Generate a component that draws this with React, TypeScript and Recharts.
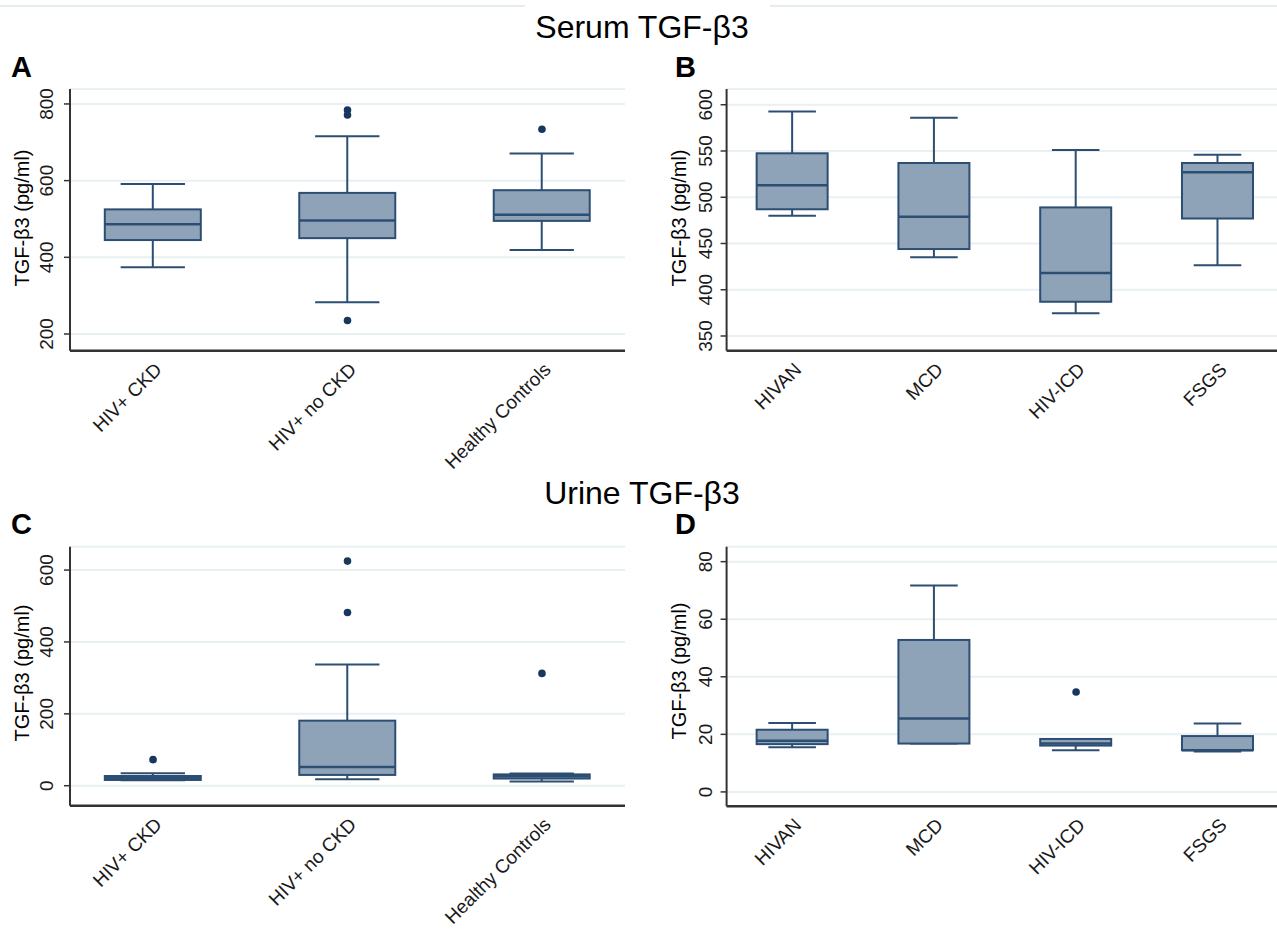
import React from 'react';
import { ComposedChart, Bar, Scatter, XAxis, YAxis, CartesianGrid } from 'recharts';

// ---------- categories ----------
const groupsAC = ['HIV+ CKD', 'HIV+ no CKD', 'Healthy Controls'];
const groupsBD = ['HIVAN', 'MCD', 'HIV-ICD', 'FSGS'];

// ---------- Panel A: Serum TGF-β3 by HIV/CKD status ----------
const aMin = [374, 283, 419];
const aQ1 = [445, 450, 495];
const aMed = [486, 496, 511];
const aQ3 = [525, 568, 575];
const aMax = [591, 716, 671];
const aOutX = [1, 1, 1, 2];
const aOutY = [784, 771, 235, 734];
const aTicks = [200, 400, 600, 800];

// ---------- Panel B: Serum TGF-β3 by histology ----------
const bMin = [480, 435, 374.5, 426.5];
const bQ1 = [487, 444, 387, 477];
const bMed = [513, 479, 418, 527];
const bQ3 = [547.5, 537, 489, 537];
const bMax = [592.8, 586, 551, 546];
const bOutX: number[] = [];
const bOutY: number[] = [];
const bTicks = [350, 400, 450, 500, 550, 600];

// ---------- Panel C: Urine TGF-β3 by HIV/CKD status ----------
const cMin = [15, 18, 12];
const cQ1 = [16, 30, 20];
const cMed = [21, 52, 26];
const cQ3 = [27, 181, 31.5];
const cMax = [35, 337.6, 34.3];
const cOutX = [0, 1, 1, 2];
const cOutY = [72.5, 625, 482, 312.5];
const cTicks = [0, 200, 400, 600];

// ---------- Panel D: Urine TGF-β3 by histology ----------
const dMin = [15.5, 16.8, 14.5, 14.0];
const dQ1 = [16.6, 16.8, 16.1, 14.5];
const dMed = [17.8, 25.5, 16.8, 14.5];
const dQ3 = [21.6, 52.8, 18.4, 19.4];
const dMax = [23.9, 71.7, 18.4, 23.8];
const dOutX = [2];
const dOutY = [34.7];
const dTicks = [0, 20, 40, 60, 80];

const FONT = '"Liberation Sans", Arial, sans-serif';
const FILL = '#8FA3B8';
const STROKE = '#2C4E73';
const DOT = '#17375E';
const AXIS = '#333333';
const GRID = '#E8F0F3';
const TEXT = '#1a1a1a';

function buildRows(groups: string[], mn: number[], q1: number[], med: number[], q3: number[], mx: number[]) {
  return groups.map((g, i) => ({
    x: i,
    name: g,
    min: mn[i],
    q1: q1[i],
    med: med[i],
    q3: q3[i],
    max: mx[i],
    range: [mn[i], mx[i]],
  }));
}

function buildOutliers(xs: number[], ys: number[]) {
  return xs.map((x, i) => ({ x, y: ys[i] }));
}

const BoxShape = (props: any) => {
  const { x, y, width, height, payload } = props;
  if (x == null || y == null || !payload) return null;
  const top = Math.min(y, y + height);
  const h = Math.abs(height);
  const { min, q1, med, q3, max } = payload;
  const span = max - min;
  const py = (v: number) => (span === 0 ? top : top + (h * (max - v)) / span);
  const cx = x + width / 2;
  const capHalf = width * 0.335;
  return (
    <g>
      <line x1={cx} x2={cx} y1={py(max)} y2={py(q3)} stroke={STROKE} strokeWidth={2} />
      <line x1={cx} x2={cx} y1={py(q1)} y2={py(min)} stroke={STROKE} strokeWidth={2} />
      <line x1={cx - capHalf} x2={cx + capHalf} y1={py(max)} y2={py(max)} stroke={STROKE} strokeWidth={2} />
      <line x1={cx - capHalf} x2={cx + capHalf} y1={py(min)} y2={py(min)} stroke={STROKE} strokeWidth={2} />
      <rect x={x} y={py(q3)} width={width} height={Math.max(py(q1) - py(q3), 0.5)} fill={FILL} stroke={STROKE} strokeWidth={2} />
      <line x1={x} x2={x + width} y1={py(med)} y2={py(med)} stroke={STROKE} strokeWidth={2.5} />
    </g>
  );
};

const DotShape = (props: any) => {
  const { cx, cy } = props;
  if (cx == null || cy == null) return null;
  return <circle cx={cx} cy={cy} r={3.8} fill={DOT} />;
};

type PanelProps = {
  left: number;
  top: number;
  width: number;
  height: number;
  plotTop: number;
  plotBottom: number;
  axisX: number;
  plotRight: number;
  groups: string[];
  rows: any[];
  outliers: { x: number; y: number }[];
  yDomain: [number, number];
  yTicks: number[];
  xDomain: [number, number];
  barSize: number;
  yLabelShift: number;
};

function Panel(p: PanelProps) {
  const marginTop = p.plotTop - p.top;
  const xAxisHeight = 100;
  const marginBottom = p.top + p.height - p.plotBottom - xAxisHeight;
  const yAxisWidth = p.axisX - p.left;
  const marginRight = p.left + p.width - p.plotRight;
  const xTicks = p.groups.map((_, i) => i);

  const XTick = (tp: any) => {
    const { x, y, payload } = tp;
    const tx = x + 10;
    const ty = y + 20;
    return (
      <text
        x={tx}
        y={ty}
        transform={`rotate(-45 ${tx} ${ty})`}
        textAnchor="end"
        fontSize={19}
        fontFamily={FONT}
        fill={TEXT}
      >
        {p.groups[payload.value]}
      </text>
    );
  };

  const YTick = (tp: any) => {
    const { x, y, payload } = tp;
    const tx = x - p.yLabelShift;
    return (
      <text
        x={tx}
        y={y}
        transform={`rotate(-90 ${tx} ${y})`}
        textAnchor="middle"
        fontSize={19}
        fontFamily={FONT}
        fill={TEXT}
      >
        {payload.value}
      </text>
    );
  };

  return (
    <div style={{ position: 'absolute', left: p.left, top: p.top, width: p.width, height: p.height }}>
      <ComposedChart
        width={p.width}
        height={p.height}
        data={p.rows}
        margin={{ top: marginTop, right: marginRight, bottom: marginBottom, left: 0 }}
      >
        <CartesianGrid vertical={false} stroke={GRID} strokeWidth={2} />
        <XAxis
          dataKey="x"
          type="number"
          domain={p.xDomain}
          allowDataOverflow
          ticks={xTicks}
          interval={0}
          height={xAxisHeight}
          tickLine={false}
          tickSize={0}
          tickMargin={0}
          axisLine={{ stroke: AXIS, strokeWidth: 2.5 }}
          tick={<XTick />}
        />
        <YAxis
          type="number"
          domain={p.yDomain}
          allowDataOverflow
          ticks={p.yTicks}
          interval={0}
          width={yAxisWidth}
          tickSize={6}
          tickMargin={0}
          tickLine={{ stroke: AXIS, strokeWidth: 1.5 }}
          axisLine={{ stroke: AXIS, strokeWidth: 2 }}
          tick={<YTick />}
        />
        <Bar dataKey="range" barSize={p.barSize} shape={<BoxShape />} isAnimationActive={false} />
        <Scatter data={p.outliers} dataKey="y" shape={<DotShape />} isAnimationActive={false} />
      </ComposedChart>
    </div>
  );
}

const rowsA = buildRows(groupsAC, aMin, aQ1, aMed, aQ3, aMax);
const rowsB = buildRows(groupsBD, bMin, bQ1, bMed, bQ3, bMax);
const rowsC = buildRows(groupsAC, cMin, cQ1, cMed, cQ3, cMax);
const rowsD = buildRows(groupsBD, dMin, dQ1, dMed, dQ3, dMax);

export default function App() {
  const yTitle = 'TGF-β3 (pg/ml)';
  const titleStyle = { fontFamily: FONT, fill: '#000' } as any;
  return (
    <div
      style={{
        position: 'absolute',
        left: 0,
        top: 0,
        width: 1277,
        height: 929,
        overflow: 'hidden',
        background: '#ffffff',
      }}
    >
      <Panel
        left={0}
        top={60}
        width={640}
        height={420}
        plotTop={89}
        plotBottom={350.7}
        axisX={70}
        plotRight={625}
        groups={groupsAC}
        rows={rowsA}
        outliers={buildOutliers(aOutX, aOutY)}
        yDomain={[156.4, 839]}
        yTicks={aTicks}
        xDomain={[-0.427, 2.427]}
        barSize={96}
        yLabelShift={10.7}
      />
      <Panel
        left={640}
        top={60}
        width={637}
        height={420}
        plotTop={89}
        plotBottom={350.7}
        axisX={726.6}
        plotRight={1277}
        groups={groupsBD}
        rows={rowsB}
        outliers={buildOutliers(bOutX, bOutY)}
        yDomain={[334.1, 617]}
        yTicks={bTicks}
        xDomain={[-0.465, 3.417]}
        barSize={71}
        yLabelShift={8.5}
      />
      <Panel
        left={0}
        top={520}
        width={640}
        height={409}
        plotTop={546.7}
        plotBottom={805.7}
        axisX={70}
        plotRight={625}
        groups={groupsAC}
        rows={rowsC}
        outliers={buildOutliers(cOutX, cOutY)}
        yDomain={[-55.6, 665]}
        yTicks={cTicks}
        xDomain={[-0.427, 2.427]}
        barSize={96}
        yLabelShift={10.7}
      />
      <Panel
        left={640}
        top={520}
        width={637}
        height={409}
        plotTop={546.7}
        plotBottom={806.3}
        axisX={726.6}
        plotRight={1277}
        groups={groupsBD}
        rows={rowsD}
        outliers={buildOutliers(dOutX, dOutY)}
        yDomain={[-5, 85.2]}
        yTicks={dTicks}
        xDomain={[-0.465, 3.417]}
        barSize={71}
        yLabelShift={8.5}
      />
      <svg
        width={1277}
        height={929}
        style={{ position: 'absolute', left: 0, top: 0, pointerEvents: 'none' }}
      >
        <line x1={0} x2={525} y1={6} y2={6} stroke="#E6EDEF" strokeWidth={2} />
        <line x1={770} x2={1277} y1={6} y2={6} stroke="#E6EDEF" strokeWidth={2} />
        <text x={642} y={38} textAnchor="middle" fontSize={32} style={titleStyle}>Serum TGF-β3</text>
        <text x={642} y={504} textAnchor="middle" fontSize={32} style={titleStyle}>Urine TGF-β3</text>
        <text x={11} y={77} fontSize={29} fontWeight="bold" style={titleStyle}>A</text>
        <text x={675} y={77} fontSize={29} fontWeight="bold" style={titleStyle}>B</text>
        <text x={11} y={534} fontSize={29} fontWeight="bold" style={titleStyle}>C</text>
        <text x={675} y={534} fontSize={29} fontWeight="bold" style={titleStyle}>D</text>
        <text x={29} y={218} transform="rotate(-90 29 218)" textAnchor="middle" fontSize={20} style={titleStyle} fill={TEXT}>{yTitle}</text>
        <text x={686} y={218} transform="rotate(-90 686 218)" textAnchor="middle" fontSize={20} style={titleStyle} fill={TEXT}>{yTitle}</text>
        <text x={29} y={673} transform="rotate(-90 29 673)" textAnchor="middle" fontSize={20} style={titleStyle} fill={TEXT}>{yTitle}</text>
        <text x={686} y={671} transform="rotate(-90 686 671)" textAnchor="middle" fontSize={20} style={titleStyle} fill={TEXT}>{yTitle}</text>
      </svg>
    </div>
  );
}
